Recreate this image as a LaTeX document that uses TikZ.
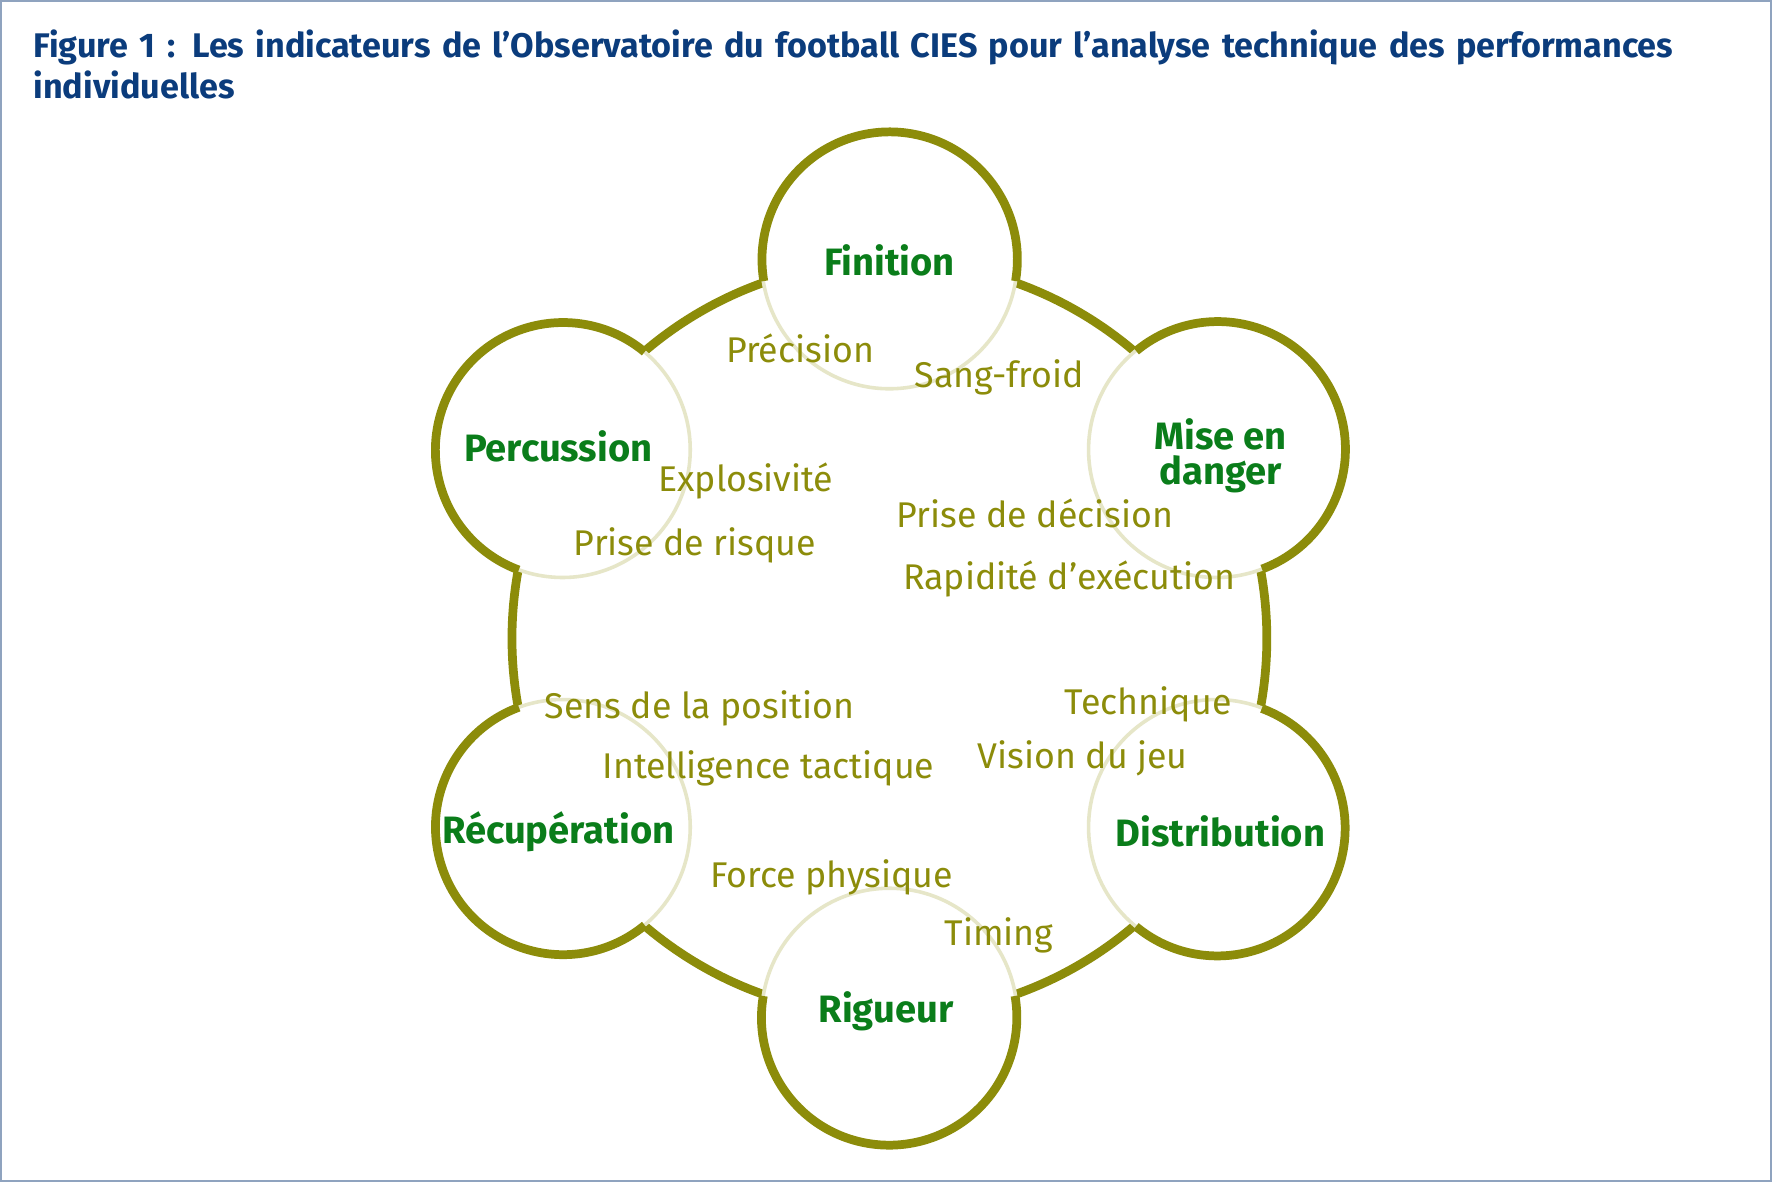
\documentclass[tikz,border=0pt]{standalone}
\usepackage{fontspec}
\usetikzlibrary{calc}
\setmainfont{Fira Sans}
\definecolor{oli}{HTML}{8C8C0A}
\definecolor{lite}{HTML}{E6E6C8}
\definecolor{grn}{HTML}{0A7D1A}
\definecolor{ttl}{HTML}{0B3C7C}
\definecolor{frm}{HTML}{8FA3BF}
\begin{document}
\begin{tikzpicture}[
  small/.style={circle,minimum size=2.26cm,inner sep=0pt,outer sep=0pt,fill=white,draw=lite,line width=0.9pt},
  lab/.style={text=grn,font=\fontsize{9.6}{8.8}\selectfont\bfseries,align=center},
  ind/.style={text=oli,font=\fontsize{9}{10}\selectfont},
  ring/.style={draw=oli,line width=2.2pt}]
\draw[frm,line width=0.6pt,fill=white] (0.01,-0.01) rectangle (15.67,-10.45);
\useasboundingbox (0,0) rectangle (15.68,-10.46);
\node[anchor=north west,text=ttl,font=\fontsize{8.6}{10.2}\selectfont\bfseries,text width=15.2cm,inner sep=0pt,align=left] (title) at (0.29,-0.26) {Figure 1 : Les indicateurs de l’Observatoire du football CIES pour l’analyse technique des performances\\individuelles};
\coordinate (O) at (7.87,-5.65);
\draw[ring] (O) circle (3.34);
\foreach \n/\a in {c1/90,c2/30,c3/-30,c4/-90,c5/210,c6/150}{
  \node[small] (\n) at ($(O)+(\a:3.34)$) {};
  \draw[ring] (\n.\a-99.7) arc[start angle=\a-99.7,delta angle=199.4,radius=1.13];
}
\node[lab] (l1) at (7.87,-2.30) {Finition};
\node[lab] (l2) at (10.80,-4.03) {Mise en\\danger};
\node[lab] (l3) at (10.80,-7.36) {Distribution};
\node[lab] (l4) at (7.84,-8.95) {Rigueur};
\node[lab] (l5) at (4.94,-7.36) {Récupération};
\node[lab] (l6) at (4.94,-3.95) {Percussion};
\node[ind] (i1) at (7.08,-3.08) {Précision};
\node[ind] (i2) at (8.84,-3.34) {Sang-froid};
\node[ind] (i3) at (6.60,-4.26) {Explosivité};
\node[ind] (i4) at (6.15,-4.83) {Prise de risque};
\node[ind] (i5) at (9.16,-4.54) {Prise de décision};
\node[ind] (i6) at (9.46,-5.12) {Rapidité d’exécution};
\node[ind] (i7) at (6.19,-6.27) {Sens de la position};
\node[ind] (i8) at (6.80,-6.80) {Intelligence tactique};
\node[ind] (i9) at (10.16,-6.23) {Technique};
\node[ind] (i10) at (9.58,-6.71) {Vision du jeu};
\node[ind] (i11) at (7.36,-7.76) {Force physique};
\node[ind] (i12) at (8.84,-8.28) {Timing};
\end{tikzpicture}
\end{document}
